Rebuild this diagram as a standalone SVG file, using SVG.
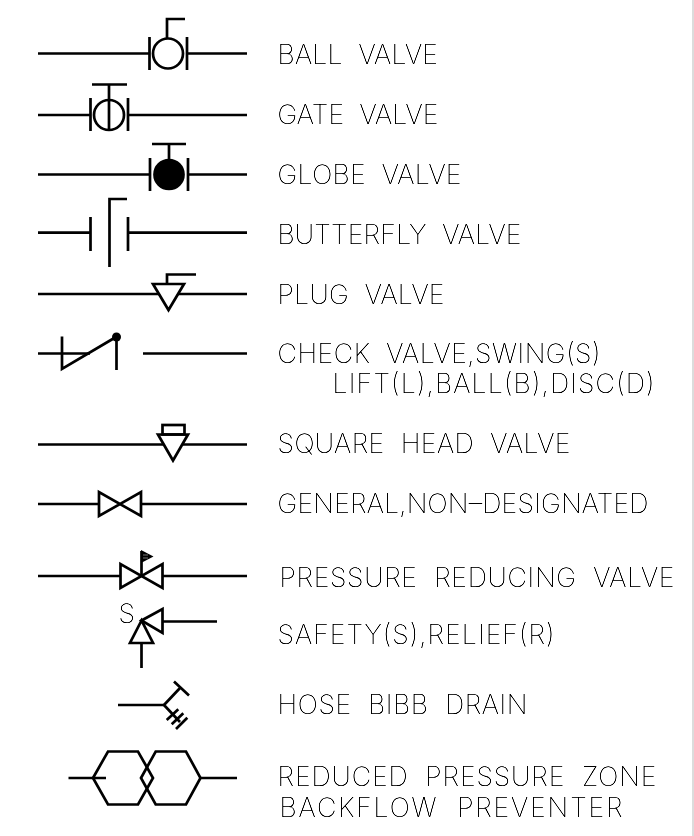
<svg xmlns="http://www.w3.org/2000/svg" width="694" height="836" viewBox="0 0 694 836">
<defs><filter id="gray" x="-5%" y="-30%" width="110%" height="160%" color-interpolation-filters="sRGB"><feComponentTransfer><feFuncA type="linear" slope="1.7"/></feComponentTransfer></filter></defs>
<style>
.s{fill:none;stroke:#000;stroke-width:2.7;stroke-linejoin:miter;stroke-linecap:butt}
.w{fill:#fff;stroke:#000;stroke-width:2.7}
.k{fill:#000;stroke:#000;stroke-width:2.7}
text{font-family:"Inter","Liberation Sans",sans-serif;font-weight:100;font-size:26.8px;fill:#000;white-space:pre;filter:url(#gray)}
</style>
<rect width="694" height="836" fill="#fff"/>
<rect x="692" y="0" width="2" height="836" fill="#dcdcdc"/>
<g id="connectors">
<path class="s" d="M38 53.5H149M187 53.5H247"/>
<path class="s" d="M38 115H90M128 115H247"/>
<path class="s" d="M38 174.5H150M188 174.5H247"/>
<path class="s" d="M38 232.7H90M128 232.7H247"/>
<path class="s" d="M38 294H247"/>
<path class="s" d="M38 353.5H90M143 353.5H247"/>
<path class="s" d="M38 444.5H247"/>
<path class="s" d="M38 504H99M141 504H247"/>
<path class="s" d="M38 576H120M162 576H247"/>
<path class="s" d="M162 621.5H217M141.5 643V668"/>
<path class="s" d="M118 705H164"/>
<path class="s" d="M68.5 778H106M200 778H237"/>
</g>
<g id="ball-valve">
<path class="s" d="M149.5 37V70M187 37V70M167 38V19H185"/>
<circle class="s" cx="168" cy="53.5" r="15"/>
<text x="277.500" y="64" textLength="160.500">BALL  VALVE</text>
</g>
<g id="gate-valve">
<path class="s" d="M90.5 98V131M128 98V131M109 84V130M92 84.5H127"/>
<circle class="s" cx="109" cy="115" r="15"/>
<text x="277.500" y="124" textLength="161">GATE  VALVE</text>
</g>
<g id="globe-valve">
<path class="s" d="M150 158V191M188 158V191M169 144V160M152 144H186"/>
<circle class="k" cx="169" cy="174.5" r="14.5"/>
<text x="277.500" y="184" textLength="184">GLOBE  VALVE</text>
</g>
<g id="butterfly-valve">
<path class="s" d="M90.5 217V251M128 217V251M109.500 267V199H127"/>
<text x="277.500" y="244" textLength="244">BUTTERFLY  VALVE</text>
</g>
<g id="plug-valve">
<path class="w" d="M153 284H184L168.500 310Z"/>
<path class="s" d="M167 284V274.500H196"/>
<text x="277.500" y="303.500" textLength="167">PLUG  VALVE</text>
</g>
<g id="check-valve">
<path class="s" d="M62 336.500V369L116 337M116.500 337V370"/>
<circle cx="116.500" cy="337" r="4.500"/>
<text x="277.500" y="363.300" textLength="323">CHECK  VALVE,SWING(S)</text>
<text x="332.500" y="393.300" textLength="322">LIFT(L),BALL(B),DISC(D)</text>
</g>
<g id="square-head-valve">
<path class="w" d="M158 434.500H188L173 460.500Z"/>
<rect class="s" x="162.500" y="425" width="22" height="9.500"/>
<text x="277.500" y="452.700" textLength="293">SQUARE  HEAD  VALVE</text>
</g>
<g id="general-valve">
<path class="s" d="M99 492V516L141 492V516Z"/>
<text x="277.500" y="512.700" textLength="371">GENERAL,NON–DESIGNATED</text>
</g>
<g id="pressure-reducing-valve">
<path class="s" d="M120.500 564V588L162.500 564V588Z"/>
<path class="s" d="M141.500 576V551"/>
<path d="M141 550L153.500 556.500L141 563Z" fill="#000"/>
<path d="M143 555H148M143 558H148" fill="none" stroke="#777" stroke-width="1"/>
<text x="279.500" y="586.700" textLength="395">PRESSURE  REDUCING  VALVE</text>
</g>
<g id="safety-relief-valve">
<path class="s" d="M141.500 620.500L130 643H153Z"/>
<path class="s" d="M141.500 620.500L162.500 609V633Z"/>
<text x="118.500" y="622.500" textLength="15.500">S</text>
<text x="277.500" y="644" textLength="277">SAFETY(S),RELIEF(R)</text>
</g>
<g id="hose-bibb-drain">
<path class="s" d="M164 705L180 688M174 681.500L189 695.500M164 705L180 722M166.700 720L178.300 709.300M171.700 724.300L183.300 713.300M176 729L187.300 717.700"/>
<text x="277.500" y="714.300" textLength="250">HOSE  BIBB  DRAIN</text>
</g>
<g id="backflow-preventer">
<path class="s" d="M93 778L108 751.500H138L153 778L138 804.500H108Z"/>
<path class="s" d="M141 778L155.700 751.500H186L200.500 778L186 804.500H155.700Z"/>
<text x="277.500" y="785.500" textLength="379">REDUCED  PRESSURE  ZONE</text>
<text x="279.500" y="817" textLength="343">BACKFLOW  PREVENTER</text>
</g>
</svg>
